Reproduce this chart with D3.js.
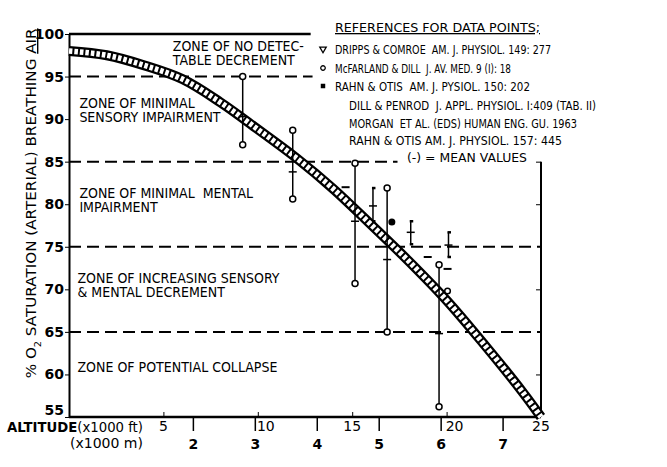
<!DOCTYPE html>
<html>
<head>
<meta charset="utf-8">
<script src="https://cdn.jsdelivr.net/npm/d3@7"></script>
<style>
  body { margin: 0; background: #fff; }
  svg text { font-family: "DejaVu Sans", "Liberation Sans", sans-serif; fill: #000; }
  .zone text { font-family: "Liberation Sans Narrow", "DejaVu Sans Condensed", "Liberation Sans", sans-serif; font-size: 14px; }
  .ref { font-size: 12.5px; }
  .tick text { font-size: 14px; font-weight: bold; }
</style>
</head>
<body>
<script>
// altitude (x1000 ft) vs O2 saturation (%)
var curveAlt = [0, 2, 4, 6, 8, 10, 12, 14, 16, 18, 20, 22, 24, 25];
var curveSat = [98, 97.5, 96.3, 94.7, 92, 88.8, 85.5, 81.8, 77.6, 73.3, 68.7, 63.5, 58, 55];

// range bars (x1000 ft, low %, high %, mean %)
var barAlt  = [9.2, 11.85, 15.15, 16.1, 16.85, 18.1, 20.1, 19.6];
var barLo   = [87, 80.6, 70.7, 78.0, 65.0, 75.3, 73.8, 56.2];
var barHi   = [95, 88.7, 84.8, 81.9, 81.9, 78.0, 76.7, 72.9];
var barMean = [90.3, 83.8, 78.0, 79.8, 73.5, 76.7, 75.2, 64.8];
var barEnd  = ["o", "o", "o", "I", "o", "I", "I", "o"];

// lone mean marks, the filled Rahn point and a lone McFarland point
var meanAlt = [14.65, 19.0, 20.05];
var meanSat = [82.0, 73.8, 72.4];
var dotAlt = [17.1], dotSat = [77.9];
var ringAlt = [20.05], ringSat = [69.8];

// zone boundaries (%) and how far along the altitude axis they run
var zoneLevels = [95, 85, 75, 65];
var zoneEndAlt = [12.9, 17.4, 25, 25];
var zoneNames = [
  ["ZONE OF NO DETEC-", "TABLE DECREMENT"],
  ["ZONE OF MINIMAL", "SENSORY IMPAIRMENT"],
  ["ZONE OF MINIMAL  MENTAL", "IMPAIRMENT"],
  ["ZONE OF INCREASING SENSORY", "& MENTAL DECREMENT"],
  ["ZONE OF POTENTIAL COLLAPSE"]
];
var zoneAlt = [5.5, 0.55, 0.55, 0.45, 0.45];
var zoneSat = [98.0, 91.25, 80.75, 70.75, 60.25];

var yTicks = [100, 95, 90, 85, 80, 75, 70, 65, 60, 55];
var ftTicks = [5, 10, 15, 20, 25];
var mTicks = [2, 3, 4, 5, 6, 7];

var refHeader = "REFERENCES FOR DATA POINTS;";
var refLines = [
  "DRIPPS & COMROE  AM. J. PHYSIOL. 149: 277",
  "McFARLAND & DILL  J. AV. MED. 9 (I): 18",
  "RAHN & OTIS  AM. J. PYSIOL. 150: 202",
  "DILL & PENROD  J. APPL. PHYSIOL. I:409 (TAB. II)",
  "MORGAN  ET AL. (EDS) HUMAN ENG. GU. 1963",
  "RAHN & OTIS AM. J. PHYSIOL. 157: 445",
  "(-) = MEAN VALUES"
];
var refSymbols = ["v", "o", "s"];

var margin = {top: 34, right: 126, bottom: 50, left: 69},
    width = 667 - margin.left - margin.right,
    height = 467 - margin.top - margin.bottom;

var svg = d3.select("body").append("svg")
    .attr("width", 667)
    .attr("height", 467)
  .append("g")
    .attr("transform", "translate(" + margin.left + "," + margin.top + ")");

var x = d3.scaleLinear().domain([0, 25]).range([0, width]);
var y = d3.scaleLinear().domain([55, 100]).range([height, 0]);

// zone dashed lines
svg.append("g").selectAll("line")
  .data(zoneLevels)
  .enter().append("line")
    .attr("x1", x(0))
    .attr("x2", function(d, i) { return x(zoneEndAlt[i]); })
    .attr("y1", function(d) { return y(d); })
    .attr("y2", function(d) { return y(d); })
    .attr("stroke", "#000")
    .attr("stroke-width", 2)
    .attr("stroke-dasharray", "12,6");

// top line at 100
svg.append("line")
  .attr("x1", x(0)).attr("x2", x(12.8))
  .attr("y1", y(100)).attr("y2", y(100))
  .attr("stroke", "#000").attr("stroke-width", 2.5);

// left axis
svg.append("g")
  .call(d3.axisLeft(y).tickValues(yTicks).tickSize(4).tickSizeOuter(0).tickPadding(1))
  .call(function(g) {
    g.select(".domain").attr("stroke-width", 2);
    g.selectAll(".tick text").attr("font-family", null);
    g.selectAll(".tick").filter(function(d) { return d == 55; }).select("text").attr("y", -7);
  });

// right hand frame line
svg.append("g")
  .attr("transform", "translate(" + width + ",0)")
  .call(d3.axisLeft(y).tickValues([85, 80, 70, 60]).tickSize(5).tickSizeOuter(0).tickFormat(""))
  .call(function(g) {
    g.select(".domain").attr("d", "M0," + y(85) + "V" + y(55)).attr("stroke-width", 2);
  });

// bottom axis in feet (ticks point up)
svg.append("g")
  .attr("transform", "translate(0," + height + ")")
  .call(d3.axisTop(x).tickValues(ftTicks).tickSize(5).tickSizeOuter(0).tickFormat(""))
  .call(function(g) { g.select(".domain").attr("d", "M0,0H" + width).attr("stroke-width", 2.5); });

svg.append("g").selectAll("text")
  .data(ftTicks)
  .enter().append("text")
    .attr("x", function(d) { return x(d) + (d == 10 || d == 20 ? 8 : 0); })
    .attr("y", height + 14)
    .attr("text-anchor", "middle")
    .style("font-size", "14px")
    .text(function(d) { return d; });

// metre ticks hang below
svg.append("g")
  .attr("transform", "translate(0," + height + ")")
  .call(d3.axisBottom(d3.scaleLinear().domain([0, 25 / 3.28084]).range([0, width]))
    .tickValues(mTicks).tickSize(14).tickPadding(2)
    .tickFormat(function(d) { return d; }))
  .call(function(g) {
    g.select(".domain").remove();
    g.selectAll(".tick line").attr("stroke-width", 1.5);
    g.selectAll(".tick text").attr("dy", "1.15em");
  });

svg.append("text")
  .attr("x", -62).attr("y", height + 15)
  .attr("textLength", 136)
  .attr("lengthAdjust", "spacingAndGlyphs")
  .style("font-size", "14px")
  .html('<tspan font-weight="bold">ALTITUDE</tspan>(x1000  ft)');
svg.append("text")
  .attr("x", 1).attr("y", height + 31)
  .attr("textLength", 73)
  .attr("lengthAdjust", "spacingAndGlyphs")
  .style("font-size", "14px")
  .text("(x1000  m)");

// y axis title
svg.append("text")
  .attr("transform", "translate(" + (-33) + "," + y(80.1) + ") rotate(-90)")
  .attr("text-anchor", "middle")
  .attr("textLength", 350)
  .attr("lengthAdjust", "spacingAndGlyphs")
  .style("font-size", "14px")
  .html('%  O<tspan baseline-shift="sub" font-size="9px">2</tspan> SATURATION (ARTERIAL) BREATHING <tspan text-decoration="underline">AIR</tspan>');

// zone names
var zone = svg.append("g").attr("class", "zone").selectAll("text")
  .data(zoneNames)
  .enter().append("text")
    .attr("x", function(d, i) { return x(zoneAlt[i]); })
    .attr("y", function(d, i) { return y(zoneSat[i]); });
zone.selectAll("tspan")
  .data(function(d) { return d; })
  .enter().append("tspan")
    .attr("x", function() { return this.parentNode.getAttribute("x"); })
    .attr("dy", function(d, i) { return i ? 14 : 0; })
    .attr("xml:space", "preserve")
    .text(function(d) { return d; });

// saturation band: black outer stroke, white dashed core gives the ladder look
var line = d3.line()
  .x(function(d) { return x(d[0]); })
  .y(function(d) { return y(d[1]); })
  .curve(d3.curveCatmullRom);
var curveData = curveAlt.map(function(a, i) { return [a, curveSat[i]]; });

svg.append("path")
  .datum(curveData)
  .attr("d", line)
  .attr("fill", "none")
  .attr("stroke", "#000")
  .attr("stroke-width", 10);
svg.append("path")
  .datum(curveData)
  .attr("d", line)
  .attr("fill", "none")
  .attr("stroke", "#fff")
  .attr("stroke-width", 5.5)
  .attr("stroke-dasharray", "3.5,2");

// range bars
var bars = svg.append("g").selectAll("g")
  .data(barAlt)
  .enter().append("g");
bars.append("line")
  .attr("x1", function(d) { return x(d); })
  .attr("x2", function(d) { return x(d); })
  .attr("y1", function(d, i) { return y(barHi[i]); })
  .attr("y2", function(d, i) { return y(barLo[i]); })
  .attr("stroke", "#000")
  .attr("stroke-width", 1.5);
bars.append("line")
  .attr("x1", function(d) { return x(d) - 4; })
  .attr("x2", function(d) { return x(d) + 4; })
  .attr("y1", function(d, i) { return y(barMean[i]); })
  .attr("y2", function(d, i) { return y(barMean[i]); })
  .attr("stroke", "#000")
  .attr("stroke-width", 1.5);
bars.each(function(d, i) {
  var g = d3.select(this);
  [barHi[i], barLo[i]].forEach(function(v) {
    if (barEnd[i] == "o") {
      g.append("circle")
        .attr("cx", x(d)).attr("cy", y(v)).attr("r", 3)
        .attr("fill", "#fff").attr("stroke", "#000").attr("stroke-width", 1.5);
    } else {
      g.append("line")
        .attr("x1", x(d) - 1).attr("x2", x(d) + 2.5)
        .attr("y1", y(v)).attr("y2", y(v))
        .attr("stroke", "#000").attr("stroke-width", 2.5);
    }
  });
});

svg.append("g").selectAll("line")
  .data(meanAlt)
  .enter().append("line")
    .attr("x1", function(d) { return x(d) - 4; })
    .attr("x2", function(d) { return x(d) + 4; })
    .attr("y1", function(d, i) { return y(meanSat[i]); })
    .attr("y2", function(d, i) { return y(meanSat[i]); })
    .attr("stroke", "#000")
    .attr("stroke-width", 2);

svg.append("g").selectAll("circle")
  .data(dotAlt)
  .enter().append("circle")
    .attr("cx", function(d) { return x(d); })
    .attr("cy", function(d, i) { return y(dotSat[i]); })
    .attr("r", 3.5);

svg.append("g").selectAll("circle")
  .data(ringAlt)
  .enter().append("circle")
    .attr("cx", function(d) { return x(d); })
    .attr("cy", function(d, i) { return y(ringSat[i]); })
    .attr("r", 2.8)
    .attr("fill", "#fff").attr("stroke", "#000").attr("stroke-width", 1.5);

// references block
var refs = svg.append("g").attr("class", "ref")
  .attr("transform", "translate(" + (335 - margin.left) + "," + (-margin.top) + ")");
refs.append("text")
  .attr("y", 32)
  .attr("textLength", 205)
  .attr("lengthAdjust", "spacingAndGlyphs")
  .style("font-size", "13px")
  .attr("text-decoration", "underline")
  .text(refHeader);
var rowX = [0, 0, 0, 14, 14, 14, 72],
    rowY = [54, 73, 91, 110, 128, 145, 162],
    rowW = [216, 176, 195, 247, 228, 213, 120];
refs.selectAll("text.row")
  .data(refLines)
  .enter().append("text")
    .attr("class", "row")
    .attr("xml:space", "preserve")
    .attr("x", function(d, i) { return rowX[i]; })
    .attr("y", function(d, i) { return rowY[i]; })
    .attr("textLength", function(d, i) { return rowW[i]; })
    .attr("lengthAdjust", "spacingAndGlyphs")
    .text(function(d) { return d; });
refs.selectAll("path.sym")
  .data(refSymbols)
  .enter().append("path")
    .attr("class", "sym")
    .attr("transform", function(d, i) { return "translate(-12," + (rowY[i] - 5) + ")" + (d == "v" ? " rotate(180)" : ""); })
    .attr("d", function(d) {
      if (d == "v") return d3.symbol(d3.symbolTriangle, 18)();
      if (d == "o") return d3.symbol(d3.symbolCircle, 16)();
      return d3.symbol(d3.symbolSquare, 10)();
    })
    .attr("fill", function(d) { return d == "s" ? "#000" : "#fff"; })
    .attr("stroke", "#000")
    .attr("stroke-width", 1.3);
</script>
</body>
</html>
